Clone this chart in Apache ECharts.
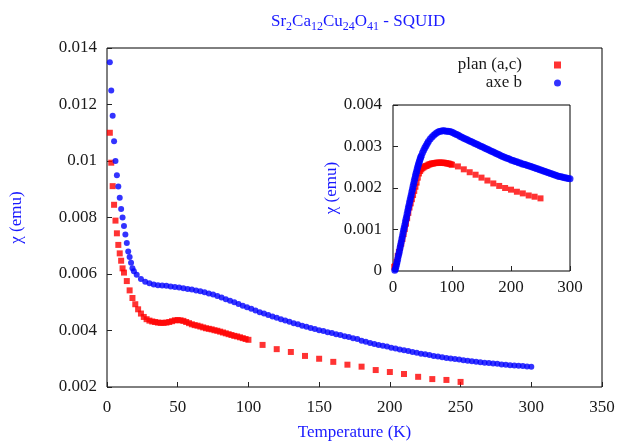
<!DOCTYPE html>
<html><head><meta charset="utf-8">
<script src="https://cdn.jsdelivr.net/npm/echarts@6/dist/echarts.min.js"></script>
<style>html,body{margin:0;padding:0;background:#fff}#c{width:618px;height:442px}</style>
</head><body><div id="c"></div>
<script>
const seriesNames = ['plan (a,c)', 'axe b'];
const titleText = 'Sr{s|2}Ca{s|12}Cu{s|24}O{s|41} - SQUID';
const xName = 'Temperature (K)';
const yName = 'χ (emu)';

// Main plot: axe b (blue circles) [T (K), chi (emu)]
const axeBMain = [
[2,0.0135],[3,0.0125],[4,0.0116],[5,0.0107],[6,0.0100],[7,0.0095],[8,0.0091],[9,0.0087],[10,0.0083],
[11,0.0080],[12,0.0077],[13,0.0074],[14,0.0071],[15,0.0068],[16,0.0066],[17,0.0064],[18,0.0062],[19,0.0061],
[21,0.00597],[24,0.00582],[27,0.00573],[30,0.00567],[33,0.00563],[36,0.00560],[39,0.00559],[42,0.00558],
[45,0.00556],[48,0.00554],[51,0.00552],[54,0.00550],[57,0.00547],[60,0.00545],[63,0.00542],[66,0.00539],
[69,0.00535],[72,0.00531],[75,0.00527],[78,0.00522],[81,0.00517],[84,0.00511],[87,0.00505],[90,0.00500],
[93,0.00494],[96,0.00488],[99,0.00482],[102,0.00477],[105,0.00471],[108,0.00465],[111,0.00460],[114,0.00455],
[117,0.00450],[120,0.00445],[123,0.00440],[126,0.00435],[129,0.00431],[132,0.00426],[135,0.00422],[138,0.00417],
[141,0.00413],[144,0.00409],[147,0.00405],[150,0.00401],[153,0.00398],[156,0.00394],[159,0.00391],[162,0.00387],
[165,0.00384],[168,0.00380],[171,0.00377],[174,0.00373],[177,0.00370],[180,0.00364],[183,0.00360],[186,0.00356],
[189,0.00352],[192,0.00349],[195,0.00346],[198,0.00343],[201,0.00339],[204,0.00336],[207,0.00333],[210,0.00330],
[213,0.00327],[216,0.00324],[219,0.00321],[222,0.00318],[225,0.00316],[228,0.00313],[231,0.00310],[234,0.00308],
[237,0.00305],[240,0.00303],[243,0.00301],[246,0.00299],[249,0.00297],[252,0.00295],[255,0.00293],[258,0.00291],
[261,0.00289],[264,0.00288],[267,0.00286],[270,0.00285],[273,0.00283],[276,0.00282],[279,0.00280],[282,0.00279],
[285,0.00277],[288,0.00276],[291,0.00275],[294,0.00274],[297,0.00273],[300,0.00272]
];

// Main plot: plan (a,c) (red squares)
const planMain = [
[2,0.0110],[3,0.00994],[4,0.00911],[5,0.00845],[6,0.00789],[7,0.00744],[8,0.00703],[9,0.00673],[10,0.00647],
[11,0.00620],[12,0.00605],[14,0.00575],[16,0.00542],[18,0.00515],[20,0.00493],[22,0.00475],[24,0.00460],
[26,0.00448],[28,0.00440],[30,0.00435],[32,0.00432],[34,0.00430],[36,0.00428],[38,0.00427],[40,0.00427],
[42,0.00428],[44,0.00430],[46,0.00433],[48,0.00436],[50,0.00437],[52,0.00436],[54,0.00434],[56,0.00430],
[58,0.00426],[60,0.00422],[62,0.00419],[64,0.00417],[66,0.00414],[68,0.00411],[70,0.00408],[72,0.00406],
[74,0.00404],[76,0.00401],[78,0.00399],[80,0.00396],[82,0.00393],[84,0.00390],[86,0.00387],[88,0.00384],
[90,0.00381],[92,0.00379],[94,0.00376],[96,0.00373],[98,0.00370],[100,0.00367],
[110,0.00349],[120,0.00334],[130,0.00324],[140,0.00310],[150,0.00300],[160,0.00289],[170,0.00279],
[180,0.00272],[190,0.00260],[200,0.00253],[210,0.00246],[220,0.00236],[230,0.00228],[240,0.00225],[250,0.00218]
];

// Inset: axe b
const axeBInset = [
[3,0.00002],[4,0.00005],[5,0.00010],[6,0.00016],[7,0.00022],[8,0.00029],[9,0.00036],[10,0.00042],
[11,0.00049],[12,0.00056],[13,0.00063],[14,0.00070],[15,0.00077],[16,0.00084],[17,0.00091],[18,0.00098],
[19,0.00104],[20,0.00111],[21,0.00118],[22,0.00125],[23,0.00131],[24,0.00138],[25,0.00145],[26,0.00152],
[27,0.00158],[28,0.00165],[29,0.00171],[30,0.00178],[31,0.00184],[32,0.00191],[33,0.00197],[34,0.00204],
[35,0.00210],[36,0.00217],[37,0.00223],[38,0.00229],[39,0.00235],[40,0.00240],[41,0.00246],[42,0.00251],
[43,0.00256],[44,0.00261],[45,0.00265],[46,0.00270],[47,0.00274],[48,0.00278],[50,0.00285],[52,0.00291],
[54,0.00297],[56,0.00302],[58,0.00307],[60,0.00312],[63,0.00318],[66,0.00323],[69,0.00327],[72,0.00331],
[75,0.00334],[78,0.00336],[81,0.00337],[84,0.00338],[87,0.00338],[90,0.00337],[93,0.00337],[96,0.00336],
[99,0.00335],[102,0.00333],[105,0.00331],[108,0.00329],[111,0.00327],[114,0.00324],[117,0.00322],[120,0.00320],
[123,0.00318],[126,0.00316],[129,0.00314],[132,0.00312],[135,0.00310],[138,0.00308],[141,0.00306],[144,0.00304],
[147,0.00302],[150,0.00300],[153,0.00298],[156,0.00296],[159,0.00294],[162,0.00292],[165,0.00290],[168,0.00288],
[171,0.00286],[174,0.00284],[177,0.00282],[180,0.00280],[183,0.00278],[186,0.00276],[189,0.00274],[192,0.00272],
[195,0.00271],[198,0.00269],[201,0.00267],[204,0.00266],[207,0.00264],[210,0.00263],[213,0.00261],[216,0.00260],
[219,0.00258],[222,0.00257],[225,0.00256],[228,0.00254],[231,0.00253],[234,0.00252],[237,0.00250],[240,0.00249],
[243,0.00247],[246,0.00246],[249,0.00244],[252,0.00243],[255,0.00241],[258,0.00240],[261,0.00238],[264,0.00237],
[267,0.00235],[270,0.00234],[273,0.00232],[276,0.00231],[279,0.00229],[282,0.00228],[285,0.00227],[288,0.00226],
[291,0.00225],[294,0.00224],[297,0.00223],[300,0.00222]
];

// Inset: plan (a,c)
const planInset = [
[2,0.00010],[4,0.00012],[6,0.00022],[8,0.00036],[10,0.00046],[12,0.00056],[14,0.00066],[16,0.00077],
[18,0.00089],[20,0.00101],[22,0.00114],[24,0.00127],[26,0.00140],[28,0.00153],[30,0.00163],[32,0.00173],
[34,0.00183],[36,0.00193],[38,0.00203],[40,0.00213],[42,0.00225],[44,0.00235],[46,0.00241],[48,0.00245],
[50,0.00248],[52,0.00250],[54,0.00252],[56,0.00253],[58,0.00254],[60,0.00256],[62,0.00257],[64,0.00258],
[66,0.00259],[68,0.00259],[70,0.00260],[72,0.00260],[74,0.00261],[76,0.00261],[78,0.00261],[80,0.00261],
[82,0.00261],[84,0.00261],[86,0.00261],[88,0.00260],[90,0.00260],[92,0.00259],[94,0.00259],[96,0.00258],
[98,0.00257],[100,0.00256],
[110,0.00252],[120,0.00245],[130,0.00238],[140,0.00232],[150,0.00225],[160,0.00218],[170,0.00211],
[180,0.00205],[190,0.00200],[200,0.00196],[210,0.00191],[220,0.00187],[230,0.00182],[240,0.00179],[250,0.00175]
];

const FONT = 'Liberation Serif';
const BLUE_TXT = '#1a1aff';
const TICK_TXT = '#1a1a1a';
const RED = '#ff0000';
const BLUE = '#0000ff';

const fmt = v => String(+v.toFixed(4));

function xAxisCfg(idx, min, max, interval, margin, withName) {
  return {
    type: 'value', gridIndex: idx, min: min, max: max, interval: interval,
    axisLine: { show: false },
    axisTick: { show: true, inside: true, length: 5, lineStyle: { color: '#222', width: 1 } },
    axisLabel: { fontFamily: FONT, fontSize: 17, color: TICK_TXT, margin: margin },
    splitLine: { show: false },
    name: withName ? xName : '',
    nameLocation: 'middle', nameGap: 37,
    nameTextStyle: { fontFamily: FONT, fontSize: 17, color: BLUE_TXT }
  };
}
function yAxisCfg(idx, min, max, interval, margin, gap) {
  return {
    type: 'value', gridIndex: idx, min: min, max: max, interval: interval,
    axisLine: { show: false },
    axisTick: { show: true, inside: true, length: 5, lineStyle: { color: '#222', width: 1 } },
    axisLabel: { fontFamily: FONT, fontSize: 17, color: TICK_TXT, margin: margin, formatter: fmt },
    splitLine: { show: false },
    name: yName, nameLocation: 'middle', nameRotate: 90, nameGap: gap,
    nameTextStyle: { fontFamily: FONT, fontSize: 17, color: BLUE_TXT }
  };
}

const chart = echarts.init(document.getElementById('c'), null, { renderer: 'canvas' });
chart.setOption({
  animation: false,
  backgroundColor: '#fff',
  title: {
    text: titleText, left: 266, top: 6,
    textStyle: {
      fontFamily: FONT, fontSize: 17, fontWeight: 'normal', color: BLUE_TXT, lineHeight: 22,
      rich: { s: { fontFamily: FONT, fontSize: 12, lineHeight: 12, color: BLUE_TXT, verticalAlign: 'bottom' } }
    }
  },
  legend: {
    orient: 'vertical', right: 52, top: 51, align: 'right', itemGap: 0,
    itemWidth: 7, itemHeight: 7,
    data: [{ name: seriesNames[0], icon: 'rect' }, { name: seriesNames[1], icon: 'circle' }],
    textStyle: { fontFamily: FONT, fontSize: 17, color: TICK_TXT, lineHeight: 18, padding: [0, 27, 0, 0] }
  },
  grid: [
    { left: 107, top: 48, width: 495, height: 339, show: true, borderColor: '#000', borderWidth: 1,
      backgroundColor: 'transparent', containLabel: false, outerBoundsMode: 'none' },
    { left: 393, top: 105, width: 177, height: 166, show: true, borderColor: '#000', borderWidth: 1,
      backgroundColor: '#fff', containLabel: false, outerBoundsMode: 'none' }
  ],
  xAxis: [ xAxisCfg(0, 0, 350, 50, 12, true), xAxisCfg(1, 0, 300, 100, 8, false) ],
  yAxis: [ yAxisCfg(0, 0.002, 0.014, 0.002, 10, 82), yAxisCfg(1, 0, 0.004, 0.001, 11, 51) ],
  series: [
    { name: seriesNames[0], type: 'scatter', xAxisIndex: 0, yAxisIndex: 0, symbol: 'rect', symbolSize: 6,
      itemStyle: { color: RED }, data: planMain, z: 2 },
    { name: seriesNames[1], type: 'scatter', xAxisIndex: 0, yAxisIndex: 0, symbol: 'circle', symbolSize: 6,
      itemStyle: { color: BLUE }, data: axeBMain, z: 3 },
    { name: seriesNames[0], type: 'scatter', xAxisIndex: 1, yAxisIndex: 1, symbol: 'rect', symbolSize: 6,
      itemStyle: { color: RED }, data: planInset, z: 4 },
    { name: seriesNames[1], type: 'scatter', xAxisIndex: 1, yAxisIndex: 1, symbol: 'circle', symbolSize: 7,
      itemStyle: { color: BLUE }, data: axeBInset, z: 5 }
  ]
});
</script>
</body></html>
